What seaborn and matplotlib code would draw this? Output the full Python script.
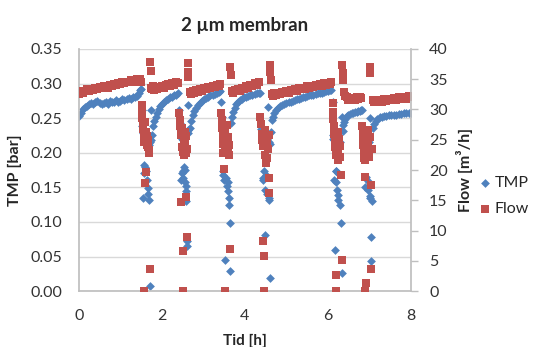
import pandas as pd
import matplotlib
matplotlib.use("Agg")
import matplotlib.pyplot as plt
import seaborn as sns

# --- data: time [h], TMP [bar], flow [m3/h] ---
tid = [
    # run 1
    0.00, 0.05, 0.10, 0.15, 0.20, 0.25, 0.30, 0.35, 0.40, 0.45,
    0.50, 0.55, 0.60, 0.65, 0.70, 0.75, 0.80, 0.85, 0.90, 0.95,
    1.00, 1.05, 1.10, 1.15, 1.20, 1.25, 1.30, 1.35, 1.40, 1.45,
    # backflush 1
    1.48, 1.50, 1.51, 1.52, 1.53, 1.54, 1.55, 1.56, 1.57, 1.58,
    1.59, 1.60, 1.61, 1.62, 1.63, 1.64, 1.66, 1.67, 1.68, 1.69,
    1.70, 1.71, 1.72, 1.73, 1.74,
    # run 2
    1.76, 1.79, 1.82, 1.85, 1.88, 1.92, 1.96, 2.00, 2.05, 2.10,
    2.15, 2.20, 2.25, 2.30, 2.35, 2.40,
    # backflush 2
    2.42, 2.43, 2.44, 2.45, 2.46, 2.47, 2.48, 2.49, 2.50, 2.51,
    2.52, 2.53, 2.54, 2.55, 2.56, 2.57, 2.58, 2.59, 2.60, 2.61,
    2.62, 2.63, 2.64,
    # run 3
    2.67, 2.70, 2.74, 2.78, 2.82, 2.87, 2.92, 2.97, 3.02, 3.07,
    3.12, 3.17, 3.22, 3.27, 3.32, 3.37, 3.40,
    # backflush 3
    3.43, 3.44, 3.45, 3.46, 3.47, 3.48, 3.49, 3.50, 3.51, 3.52,
    3.53, 3.55, 3.56, 3.58, 3.59, 3.61, 3.62, 3.64, 3.65, 3.66,
    # run 4
    3.68, 3.71, 3.75, 3.79, 3.83, 3.88, 3.93, 3.98, 4.03, 4.08,
    4.13, 4.18, 4.23, 4.28, 4.34,
    # backflush 4
    4.37, 4.38, 4.40, 4.42, 4.43, 4.44, 4.46, 4.47, 4.48, 4.49,
    4.50, 4.52, 4.54, 4.55, 4.57, 4.58, 4.59, 4.60, 4.61, 4.62,
    # run 5
    4.64, 4.67, 4.71, 4.75, 4.80, 4.85, 4.90, 4.95, 5.00, 5.05,
    5.10, 5.15, 5.20, 5.25, 5.30, 5.35, 5.40, 5.45, 5.50, 5.55,
    5.60, 5.65, 5.70, 5.75, 5.80, 5.85, 5.90, 5.95, 6.00, 6.05,
    6.08,
    # backflush 5
    6.11, 6.12, 6.13, 6.14, 6.15, 6.16, 6.17, 6.18, 6.19, 6.20,
    6.22, 6.23, 6.24, 6.25, 6.27, 6.28, 6.30, 6.32, 6.33, 6.34,
    6.35, 6.36,
    # run 6
    6.38, 6.41, 6.45, 6.49, 6.53, 6.57, 6.61, 6.65, 6.69, 6.73,
    6.77, 6.80,
    # backflush 6
    6.82, 6.83, 6.84, 6.85, 6.86, 6.87, 6.88, 6.89, 6.90, 6.92,
    6.94, 6.96, 6.97, 6.98, 7.00, 7.01, 7.02, 7.03, 7.04, 7.05,
    # run 7
    7.08, 7.11, 7.15, 7.19, 7.24, 7.29, 7.34, 7.40, 7.46, 7.52,
    7.58, 7.64, 7.70, 7.76, 7.82, 7.88, 7.94, 8.00,
]

tmp = [
    0.253, 0.258, 0.263, 0.266, 0.268, 0.270, 0.272, 0.271, 0.274, 0.275,
    0.272, 0.270, 0.272, 0.274, 0.271, 0.275, 0.273, 0.274, 0.276, 0.274,
    0.275, 0.277, 0.276, 0.278, 0.279, 0.277, 0.280, 0.281, 0.282, 0.287,
    0.290, 0.292, 0.262, 0.247, 0.238, 0.134, 0.228, 0.225, 0.182, 0.170,
    0.222, 0.180, 0.218, 0.173, 0.215, 0.160, 0.149, 0.141, 0.132, 0.215,
    0.211, 0.008, 0.216, 0.262, 0.219,
    0.226, 0.238, 0.246, 0.252, 0.258, 0.263, 0.267, 0.270, 0.273, 0.276,
    0.278, 0.280, 0.281, 0.283, 0.284, 0.286,
    0.262, 0.243, 0.235, 0.160, 0.228, 0.225, 0.220, 0.170, 0.218, 0.174,
    0.163, 0.180, 0.222, 0.157, 0.175, 0.145, 0.152, 0.130, 0.065, 0.072,
    0.269, 0.228, 0.233,
    0.236, 0.246, 0.254, 0.260, 0.265, 0.269, 0.272, 0.275, 0.277, 0.279,
    0.281, 0.283, 0.284, 0.285, 0.287, 0.288, 0.289,
    0.274, 0.251, 0.245, 0.173, 0.168, 0.238, 0.161, 0.232, 0.045, 0.228,
    0.225, 0.163, 0.152, 0.157, 0.145, 0.135, 0.125, 0.098, 0.029, 0.243,
    0.252, 0.259, 0.265, 0.270, 0.273, 0.276, 0.278, 0.280, 0.281, 0.282,
    0.283, 0.284, 0.285, 0.286, 0.287,
    0.286, 0.235, 0.228, 0.225, 0.163, 0.160, 0.222, 0.173, 0.146, 0.081,
    0.168, 0.141, 0.220, 0.266, 0.216, 0.134, 0.131, 0.019, 0.212, 0.230,
    0.247, 0.252, 0.258, 0.262, 0.265, 0.267, 0.269, 0.270, 0.272, 0.273,
    0.274, 0.275, 0.276, 0.277, 0.278, 0.279, 0.280, 0.281, 0.282, 0.283,
    0.284, 0.284, 0.285, 0.286, 0.287, 0.287, 0.288, 0.289, 0.289, 0.290,
    0.291,
    0.274, 0.225, 0.220, 0.218, 0.161, 0.059, 0.216, 0.173, 0.158, 0.173,
    0.146, 0.170, 0.139, 0.132, 0.212, 0.125, 0.215, 0.098, 0.026, 0.252,
    0.232, 0.240,
    0.244, 0.249, 0.253, 0.255, 0.256, 0.257, 0.258, 0.259, 0.259, 0.260,
    0.261, 0.262,
    0.262, 0.222, 0.218, 0.214, 0.210, 0.194, 0.150, 0.165, 0.208, 0.165,
    0.212, 0.159, 0.146, 0.216, 0.138, 0.250, 0.134, 0.078, 0.044, 0.130,
    0.236, 0.242, 0.246, 0.249, 0.251, 0.252, 0.253, 0.253, 0.254, 0.254,
    0.255, 0.255, 0.256, 0.256, 0.257, 0.257, 0.257, 0.258,
]

flow = [
    32.6, 33.1, 32.8, 33.0, 33.3, 33.1, 33.4, 33.2, 33.6, 33.4,
    33.7, 33.5, 33.8, 33.9, 33.6, 34.0, 33.8, 34.2, 34.1, 34.3,
    34.2, 34.5, 34.3, 34.6, 34.5, 34.8, 34.6, 34.9, 35.0, 34.8,
    35.1, 34.6, 30.8, 29.5, 28.6, 27.9, 26.8, 25.5, 0.1, 24.6,
    17.8, 28.0, 26.2, 19.7, 24.2, 25.6, 23.8, 24.9, 23.0, 22.8,
    23.3, 3.7, 37.9, 36.4, 33.6,
    33.4, 33.8, 33.2, 33.6, 33.3, 33.7, 33.5, 33.9, 33.6, 34.0,
    34.2, 33.9, 34.3, 34.1, 34.5, 34.4,
    29.4, 28.3, 27.3, 26.5, 25.8, 14.8, 27.0, 23.8, 0.1, 6.6,
    23.0, 22.5, 25.0, 26.2, 24.3, 25.6, 22.8, 15.6, 8.9, 23.5,
    37.7, 35.4, 36.2,
    32.9, 32.6, 33.1, 32.8, 33.2, 32.9, 33.4, 33.1, 33.5, 33.3,
    33.7, 33.5, 33.9, 33.7, 34.1, 33.9, 34.2,
    29.4, 28.2, 27.0, 25.6, 24.3, 22.8, 20.1, 25.0, 0.1, 23.5,
    26.6, 24.8, 27.5, 23.3, 25.5, 22.4, 24.1, 37.0, 6.9, 35.7,
    33.0, 32.7, 33.2, 33.0, 33.4, 33.1, 33.6, 33.4, 33.8, 33.6,
    34.0, 33.8, 34.3, 34.1, 34.5,
    28.8, 27.6, 26.0, 25.0, 8.2, 24.0, 0.1, 5.8, 22.5, 26.6,
    21.2, 24.6, 22.0, 23.4, 25.8, 18.7, 16.2, 37.4, 36.2, 34.9,
    32.6, 32.3, 32.7, 32.4, 32.8, 32.5, 32.9, 32.7, 33.1, 32.8,
    33.2, 33.0, 33.4, 33.1, 33.5, 33.3, 33.6, 33.4, 33.8, 33.5,
    33.9, 33.7, 34.0, 33.8, 34.2, 33.9, 34.3, 34.1, 34.4, 34.2,
    34.5,
    31.0, 29.6, 28.4, 27.2, 26.0, 25.0, 23.8, 2.6, 0.1, 22.5,
    24.4, 21.6, 26.3, 23.0, 25.2, 22.2, 24.0, 19.2, 5.1, 37.4,
    36.0, 34.9,
    32.9, 32.3, 32.0, 31.6, 31.9, 31.5, 31.8, 31.6, 32.0, 31.7,
    32.1, 31.9,
    27.2, 26.0, 25.0, 24.2, 23.0, 22.0, 18.9, 21.6, 0.1, 1.4,
    23.5, 26.6, 24.8, 22.2, 25.4, 37.0, 36.0, 17.5, 3.7, 23.4,
    31.6, 31.3, 31.6, 31.2, 31.5, 31.3, 31.7, 31.4, 31.8, 31.5,
    31.9, 31.6, 32.0, 31.7, 32.1, 31.8, 32.2, 32.0,
]

df = pd.DataFrame({'tid': tid, 'tmp': tmp, 'flow': flow})

blue = '#4F81BD'
red = '#C0504D'
grid_col = '#D9D9D9'
axis_col = '#BFBFBF'

sns.set_theme(style='white')
plt.rcParams['font.family'] = ['Lato', 'DejaVu Sans']
plt.rcParams['font.size'] = 11

fig = plt.figure(figsize=(5.36, 3.47), dpi=100)
ax = fig.add_axes([0.147, 0.161, 0.62, 0.698])
ax2 = ax.twinx()

sns.scatterplot(data=df, x='tid', y='tmp', ax=ax, marker='D', s=20,
                color=blue, linewidth=0, label='TMP', legend=False)
sns.scatterplot(data=df, x='tid', y='flow', ax=ax2, marker='s', s=30,
                color=red, linewidth=0, label='Flow', legend=False)

ax.set_xlim(0, 8)
ax.set_ylim(0, 0.35)
ax2.set_ylim(0, 40)
ax.set_xticks([0, 2, 4, 6, 8])
ax.set_yticks([0, 0.05, 0.10, 0.15, 0.20, 0.25, 0.30, 0.35])
ax.set_yticklabels([f'{v:.2f}' for v in ax.get_yticks()])
ax2.set_yticks([0, 5, 10, 15, 20, 25, 30, 35, 40])

ax.yaxis.grid(True, color=grid_col, linewidth=1)
ax.set_axisbelow(True)

for a in (ax, ax2):
    for side in a.spines:
        a.spines[side].set_visible(False)
ax.spines['left'].set_visible(True)
ax.spines['left'].set_color(axis_col)
ax.spines['bottom'].set_visible(True)
ax.spines['bottom'].set_color(axis_col)
ax2.spines['right'].set_visible(True)
ax2.spines['right'].set_color(axis_col)

ax.tick_params(axis='y', length=0, pad=12, labelsize=11.5, colors='#333333')
ax.tick_params(axis='x', length=0, pad=13, labelsize=11.5, colors='#333333')
ax2.tick_params(axis='y', length=5, width=1, color=axis_col, pad=8,
                labelsize=11.5, labelcolor='#333333', right=True, direction='out')

ax.set_xlabel('Tid [h]', fontweight='bold', fontsize=11, labelpad=8)
ax.set_ylabel('TMP [bar]', fontweight='bold', fontsize=11.5, labelpad=6)
ax2.set_ylabel('Flow [m³/h]', fontweight='bold', fontsize=11.5, labelpad=6)
ax.set_title('2 µm membran', fontweight='bold', fontsize=13.5, pad=13)

h1, l1 = ax.get_legend_handles_labels()
h2, l2 = ax2.get_legend_handles_labels()
fig.legend(h1 + h2, l1 + l2, loc='center left', bbox_to_anchor=(0.893, 0.435),
           frameon=False, fontsize=11.5, handletextpad=0.2, labelspacing=0.75,
           handlelength=0.8, borderpad=0, borderaxespad=0)

fig.savefig('out.png', dpi=100)
